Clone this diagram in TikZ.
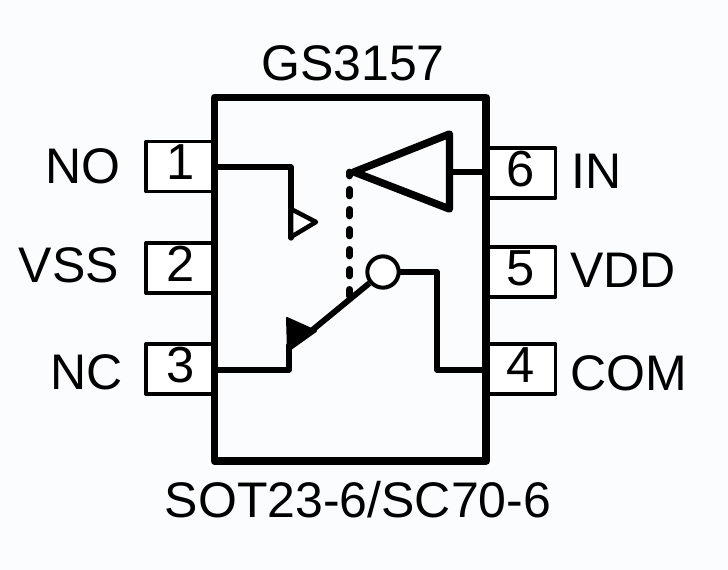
\documentclass[tikz,border=0pt]{standalone}
\usepackage{fontspec}
\setmainfont{Liberation Sans}
\usetikzlibrary{positioning}
\definecolor{paper}{RGB}{251,252,253}
\tikzset{pinbox/.style={draw,fill=white,line width=2.6pt,line join=round,minimum width=52pt,minimum height=37.5pt,inner sep=0pt,text depth=6pt,font=\fontsize{38}{38}\selectfont},
 pinlabel/.style={inner sep=0pt,font=\fontsize{37.5}{38}\selectfont},
 wire/.style={line width=4pt,line join=round,line cap=round}}
\begin{document}
\begin{tikzpicture}[x=.75pt,y=-.75pt]
 \fill[paper] (0,0) rectangle (728,570);
 \useasboundingbox (0,0) rectangle (728,570);
 % pins
 \node[pinbox] (pin1) at (180.5,166.5) {1};
 \node[pinbox] (pin2) at (180.5,268) {2};
 \node[pinbox] (pin3) at (180.5,369) {3};
 \node[pinbox] (pin6) at (521,173) {6};
 \node[pinbox] (pin5) at (521,272) {5};
 \node[pinbox] (pin4) at (521,369) {4};
 % package
 \draw[line width=5.8pt,line join=round] (214.5,97.5) rectangle (486,461);
 \node[pinlabel] (title) at (353,63) {GS3157};
 \node[pinlabel] (pkg) at (358,500) {SOT23-6/SC70-6};
 \node[pinlabel,anchor=east] (no) at (121,166) {NO};
 \node[pinlabel,anchor=east] (vss) at (119,265) {VSS};
 \node[pinlabel,anchor=east] (nc) at (123,372) {NC};
 \node[pinlabel,anchor=west] (in) at (571,171) {IN};
 \node[pinlabel,anchor=west] (vdd) at (570,270) {VDD};
 \node[pinlabel,anchor=west] (com) at (570,373) {COM};
 % inside
 \coordinate (noin) at (214.5,167);
 \coordinate (nocorner) at (291,167);
 \coordinate (nctip) at (289,345);
 \coordinate (nccorner) at (289,370);
 \coordinate (ncin) at (214.5,370);
 \coordinate (comin) at (486,370);
 \coordinate (comcorner) at (437,370);
 \coordinate (compole) at (437,272);
 \coordinate (inin) at (486,172);
 \coordinate (ampback) at (450,172);
 \coordinate (amptip) at (354,172);
 \coordinate (dashtop) at (349.5,172);
 \coordinate (dashend) at (349.5,298);
 \coordinate (armstart) at (310,332);
 \node[draw,circle,line width=3pt,fill=white,minimum size=23.5pt,inner sep=0pt] (pole) at (383,272) {};
 \draw[wire] (noin)--(nocorner)--(291,238);
 \draw[wire,line width=3.4pt,fill=white] (291,209)--(316,222)--(291,237)--cycle;
 \draw[wire] (ncin)--(nccorner)--(nctip);
 \draw[wire,line width=1.5pt,fill=black] (287,318)--(316,331)--(288,351)--cycle;
 \draw[wire,line width=4.4pt,line cap=butt] (armstart)--(pole);
 \draw[wire] (pole.east)--(compole)--(comcorner)--(comin);
 \draw[wire] (inin)--(ampback);
 \draw[wire,line width=5.6pt,fill=paper] (amptip)--(449.5,134)--(449.5,209)--cycle;
 \draw[line width=5pt,dash pattern=on 5pt off 10pt,dash phase=2pt,line cap=round] (dashtop)--(dashend);
\end{tikzpicture}
\end{document}
